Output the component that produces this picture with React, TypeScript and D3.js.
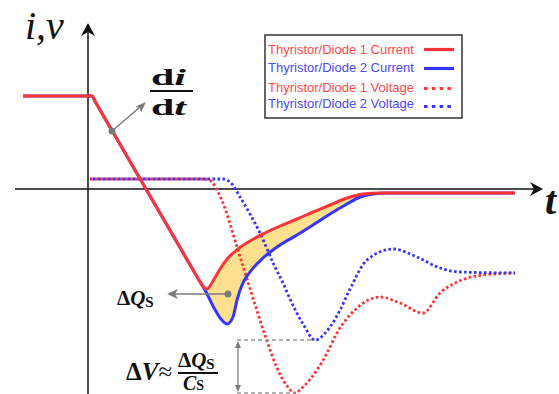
import React from 'react';
import * as d3 from 'd3';

// ---- data (time t in arbitrary units, value v in arbitrary units) ----
const current1T = [-6.5, 0.4, 0.7, 3, 6, 9, 11.0, 11.5, 11.9, 12.5, 13.2, 14.0, 15.0, 16.2, 17.7, 19.2, 20.9, 22.5, 24.2, 25.9, 27.5, 29.2, 42.7];
const current1V = [9.3, 9.3, 8.78, 4.82, -0.34, -5.5, -8.94, -9.75, -10.0, -9.2, -8.0, -6.9, -6.0, -5.2, -4.4, -3.7, -3.0, -2.3, -1.6, -0.9, -0.5, -0.4, -0.4];

const current2T = [-6.5, 0.4, 0.7, 3, 6, 9, 11.0, 11.7, 12.5, 13.3, 13.9, 14.5, 14.9, 15.4, 16.2, 17.5, 19.2, 20.9, 22.5, 24.2, 25.9, 27.2, 28.5, 30.0, 42.7];
const current2V = [9.3, 9.3, 8.78, 4.82, -0.34, -5.5, -8.94, -10.1, -11.7, -13.0, -13.5, -12.8, -11.1, -9.6, -8.3, -6.9, -5.6, -4.6, -3.6, -2.5, -1.5, -0.8, -0.5, -0.4, -0.4];

const voltage1T = [0.2, 11.7, 12.3, 12.9, 13.5, 14.9, 15.9, 17.0, 17.9, 18.9, 19.9, 20.7, 21.5, 22.9, 23.9, 24.9, 26.9, 29.2, 31.2, 33.5, 35.2, 36.9, 39.5, 42.7];
const voltage1V = [1.0, 1.0, 0.8, -0.1, -1.4, -5.8, -9.0, -12.5, -15.2, -17.9, -19.7, -20.4, -19.8, -18.1, -16.4, -14.4, -11.9, -10.8, -11.4, -12.4, -10.4, -9.3, -8.6, -8.4];

const voltage2T = [0.2, 13.5, 14.3, 15.2, 16.2, 17.2, 18.6, 19.5, 20.2, 21.5, 22.7, 24.2, 25.2, 26.2, 27.9, 30.5, 32.9, 35.2, 37.2, 42.7];
const voltage2V = [1.0, 1.0, 0.6, -0.8, -2.5, -4.4, -7.6, -9.4, -11.0, -13.5, -15.1, -13.8, -12.1, -10.0, -7.1, -6.0, -6.8, -7.9, -8.3, -8.4];

const legendLabels = [
  'Thyristor/Diode 1 Current',
  'Thyristor/Diode 2 Current',
  'Thyristor/Diode 1 Voltage',
  'Thyristor/Diode 2 Voltage',
];

const RED = '#FF3434';
const BLUE = '#3535FF';
const RED_TXT = '#FF4A4A';
const BLUE_TXT = '#4A4AFF';
const GRAY = '#7A7A7A';
const SERIF = '"Liberation Serif", "DejaVu Serif", serif';
const SANS = '"Liberation Sans", Arial, sans-serif';

const W = 559;
const H = 394;

const x = d3.scaleLinear().domain([0, 10]).range([88, 188]);
const y = d3.scaleLinear().domain([0, 10]).range([189, 89]);

const zip = (ts: number[], vs: number[]) => ts.map((t, i) => [t, vs[i]] as [number, number]);

const line = d3
  .line<[number, number]>()
  .x((d) => x(d[0]))
  .y((d) => y(d[1]))
  .curve(d3.curveMonotoneX);

export default function App() {
  const c1 = zip(current1T, current1V);
  const c2 = zip(current2T, current2V);
  const v1 = zip(voltage1T, voltage1V);
  const v2 = zip(voltage2T, voltage2V);

  const base = current1V[current1V.length - 1];
  const startIdx = current2T.indexOf(11.0);
  const fillPts = c2.slice(startIdx);
  const fillArea = d3
    .area<[number, number]>()
    .x((d) => x(d[0]))
    .y0(y(base))
    .y1((d) => y(d[1]))
    .curve(d3.curveMonotoneX)(fillPts);
  const belowRed = d3
    .area<[number, number]>()
    .x((d) => x(d[0]))
    .y0(H + 50)
    .y1((d) => y(d[1]))
    .curve(d3.curveMonotoneX)(c1);

  // ΔV markers
  const v1Min = d3.min(voltage1V) as number;
  const v2Min = d3.min(voltage2V) as number;
  const v1MinT = voltage1T[voltage1V.indexOf(v1Min)];
  const v2MinT = voltage2T[voltage2V.indexOf(v2Min)];
  const dvX = x(15.0);

  const xAxisY = y(0);
  const yAxisX = x(0);

  return (
    <svg
      width={W}
      height={H}
      style={{ position: 'absolute', left: 0, top: 0, display: 'block', background: '#fff' }}
    >
      <defs>
        <clipPath id="belowRed">
          <path d={belowRed || ''} />
        </clipPath>
      </defs>

      {/* axes */}
      <line x1={15} y1={xAxisY} x2={536} y2={xAxisY} stroke="#111" strokeWidth={1.5} />
      <path d={`M543,${xAxisY} L530,${xAxisY - 7} L534,${xAxisY} L530,${xAxisY + 7} Z`} fill="#111" />
      <line x1={yAxisX} y1={H + 5} x2={yAxisX} y2={30} stroke="#111" strokeWidth={1.5} />
      <path d={`M${yAxisX},23 L${yAxisX + 7},36 L${yAxisX},32 L${yAxisX - 7},36 Z`} fill="#111" />

      <text x={25} y={39} fontFamily={SERIF} fontStyle="italic" fontSize={40} fill="#111">
        i,v
      </text>
      <text x={545} y={214} fontFamily={SERIF} fontStyle="italic" fontWeight="bold" fontSize={40} fill="#111">
        t
      </text>

      {/* yellow charge area */}
      <path d={fillArea || ''} fill="#FFE08F" clipPath="url(#belowRed)" />

      {/* voltages */}
      <path d={line(v1) || ''} fill="none" stroke={RED} strokeWidth={2.8} strokeDasharray="2.6 2.4" />
      <path d={line(v2) || ''} fill="none" stroke={BLUE} strokeWidth={2.8} strokeDasharray="2.6 2.4" strokeDashoffset={2.5} />

      {/* currents */}
      <path d={line(c2) || ''} fill="none" stroke={BLUE} strokeWidth={3} strokeLinejoin="round" />
      <path d={line(c1) || ''} fill="none" stroke={RED} strokeWidth={3} strokeLinejoin="round" />

      {/* di/dt annotation */}
      <line x1={112} y1={131} x2={140} y2={107} stroke={GRAY} strokeWidth={1.5} />
      <path d="M146,102 L135.5,106.5 L140,108 L141,112.5 Z" fill={GRAY} />
      <circle cx={112} cy={131} r={3.5} fill={GRAY} />
      <text x={151} y={85} fontFamily={SERIF} fontWeight="bold" fontSize={24} fill="#111" textLength={35} lengthAdjust="spacingAndGlyphs">
        d<tspan fontStyle="italic">i</tspan>
      </text>
      <line x1={150} y1={91} x2={193} y2={91} stroke="#111" strokeWidth={2} />
      <text x={151} y={115} fontFamily={SERIF} fontWeight="bold" fontSize={24} fill="#111" textLength={35} lengthAdjust="spacingAndGlyphs">
        d<tspan fontStyle="italic">t</tspan>
      </text>

      {/* ΔQs annotation */}
      <line x1={228} y1={294} x2={174} y2={294} stroke={GRAY} strokeWidth={1.5} />
      <path d="M167,294 L178,289 L175,294 L178,299 Z" fill={GRAY} />
      <circle cx={228} cy={294} r={3.5} fill={GRAY} />
      <text x={117} y={305} fontFamily={SERIF} fontWeight="bold" fontSize={21} fill="#111">
        Δ<tspan fontStyle="italic">Q</tspan>
        <tspan fontSize={15} dy={2}>S</tspan>
      </text>

      {/* ΔV annotation */}
      <line x1={dvX - 1} y1={y(v2Min)} x2={x(v2MinT)} y2={y(v2Min)} stroke="#999" strokeWidth={1.3} strokeDasharray="4 3" />
      <line x1={dvX - 1} y1={y(v1Min)} x2={x(v1MinT)} y2={y(v1Min)} stroke="#999" strokeWidth={1.3} strokeDasharray="4 3" />
      <line x1={dvX} y1={y(v2Min) + 4} x2={dvX} y2={y(v1Min) - 4} stroke={GRAY} strokeWidth={1.3} />
      <path d={`M${dvX},${y(v2Min) + 1} L${dvX - 3},${y(v2Min) + 8} L${dvX + 3},${y(v2Min) + 8} Z`} fill={GRAY} />
      <path d={`M${dvX},${y(v1Min) - 1} L${dvX - 3},${y(v1Min) - 8} L${dvX + 3},${y(v1Min) - 8} Z`} fill={GRAY} />

      <text x={126} y={380} fontFamily={SERIF} fontWeight="bold" fontSize={25} fill="#111">
        Δ<tspan fontStyle="italic">V</tspan>
        <tspan fontWeight="normal">≈</tspan>
      </text>
      <text x={178} y={367} fontFamily={SERIF} fontWeight="bold" fontSize={21} fill="#111">
        Δ<tspan fontStyle="italic">Q</tspan>
        <tspan fontSize={15} dy={2}>S</tspan>
      </text>
      <line x1={178} y1={373} x2={218} y2={373} stroke="#111" strokeWidth={2} />
      <text x={183} y={390} fontFamily={SERIF} fontWeight="bold" fontSize={20} fill="#111">
        <tspan fontStyle="italic">C</tspan>
        <tspan fontSize={14}>S</tspan>
      </text>

      {/* legend */}
      <rect x={265} y={35} width={197} height={83} fill="#fff" stroke="#333" strokeWidth={1.5} />
      {legendLabels.map((label, i) => {
        const ty = [53.5, 72, 92, 107.5][i];
        const ly = [49.5, 68.5, 88.5, 106.5][i];
        const isRed = i % 2 === 0;
        const dotted = i >= 2;
        return (
          <g key={label}>
            <text x={268} y={ty} fontFamily={SANS} fontSize={13} fill={isRed ? RED_TXT : BLUE_TXT}>
              {label}
            </text>
            <line
              x1={424}
              y1={ly}
              x2={454}
              y2={ly}
              stroke={isRed ? RED : BLUE}
              strokeWidth={3.2}
              strokeDasharray={dotted ? '3.5 4.3' : undefined}
            />
          </g>
        );
      })}
    </svg>
  );
}
